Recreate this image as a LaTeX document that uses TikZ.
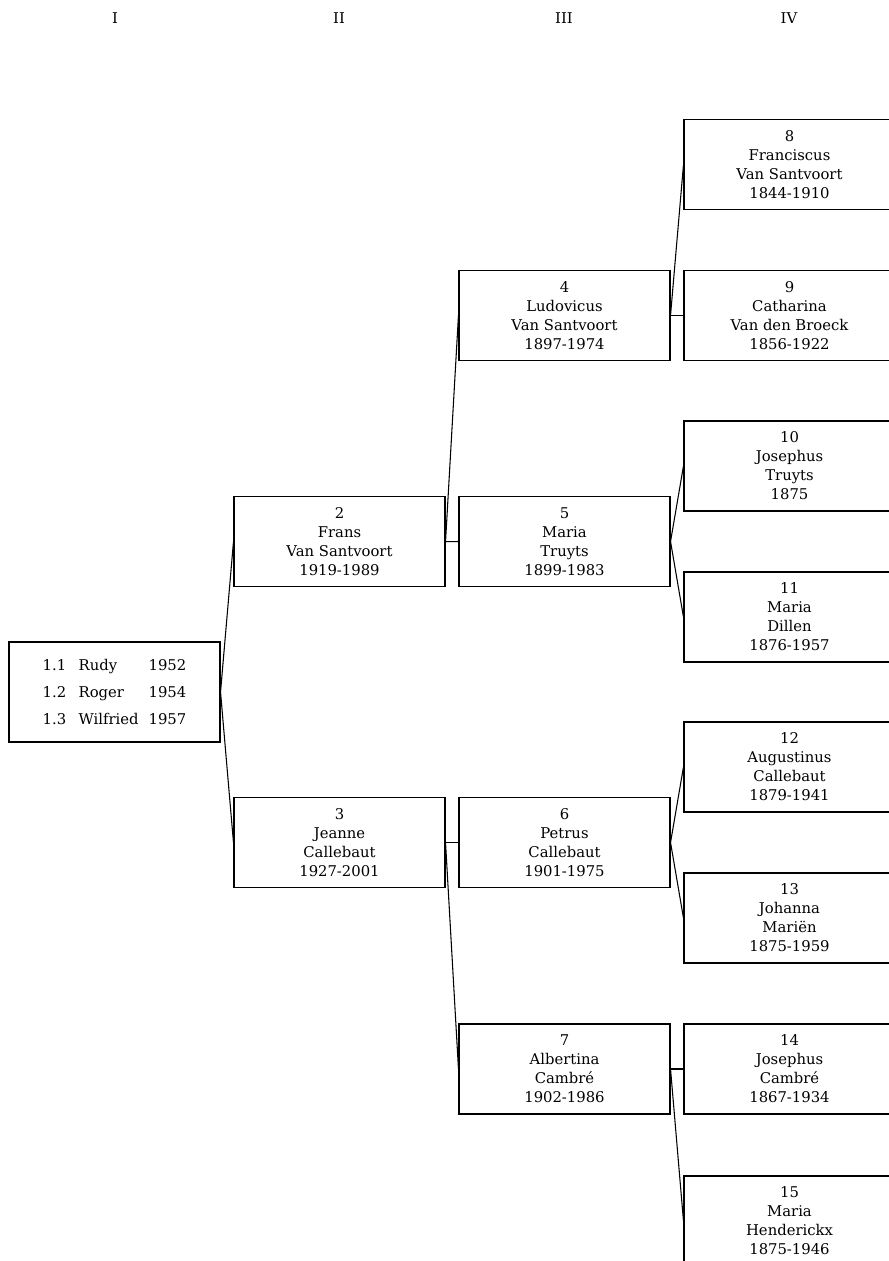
\documentclass[tikz,border=0pt]{standalone}
\usepackage{fontspec}
\setmainfont{DejaVu Serif}
\begin{document}
\begin{tikzpicture}[x=0.75pt,y=-0.75pt,
  person/.style={draw, line width=0.8pt, rectangle, minimum width=158.25pt,
    minimum height=67.5pt, align=center, inner sep=0pt,
    font=\fontsize{11.1}{14.25}\selectfont},
  rootbox/.style={person, minimum height=75pt, font=\fontsize{11.1}{20.6}\selectfont},
  header/.style={font=\fontsize{11.1}{12}\selectfont, inner sep=0pt},
  link/.style={line width=0.8pt}]
\clip (0,0) rectangle (889,1261);
% generation headers
\node[header] (hI)   at (115,18) {I};
\node[header] (hII)  at (339,18) {II};
\node[header] (hIII) at (564,18) {III};
\node[header] (hIV)  at (789,18) {IV};
% generation I
\node[rootbox] (n1) at (114.5,692) {%
  \makebox[27pt][l]{1.1}\makebox[52.5pt][l]{Rudy}1952\\
  \makebox[27pt][l]{1.2}\makebox[52.5pt][l]{Roger}1954\\
  \makebox[27pt][l]{1.3}\makebox[52.5pt][l]{Wilfried}1957};
% generation II
\node[person] (n2) at (339.5,541.7) {2\\Frans\\Van Santvoort\\1919-1989};
\node[person] (n3) at (339.5,842.5) {3\\Jeanne\\Callebaut\\1927-2001};
% generation III
\node[person] (n4) at (564.5,315.3) {4\\Ludovicus\\Van Santvoort\\1897-1974};
\node[person] (n5) at (564.5,541.5) {5\\Maria\\Truyts\\1899-1983};
\node[person] (n6) at (564.5,842.5) {6\\Petrus\\Callebaut\\1901-1975};
\node[person] (n7) at (564.5,1069) {7\\Albertina\\Cambré\\1902-1986};
% generation IV
\node[person] (n8)  at (789.5,164.7) {8\\Franciscus\\Van Santvoort\\1844-1910};
\node[person] (n9)  at (789.5,315.3) {9\\Catharina\\Van den Broeck\\1856-1922};
\node[person] (n10) at (789.5,466) {10\\Josephus\\Truyts\\1875};
\node[person] (n11) at (789.5,617) {11\\Maria\\Dillen\\1876-1957};
\node[person] (n12) at (789.5,767) {12\\Augustinus\\Callebaut\\1879-1941};
\node[person] (n13) at (789.5,918) {13\\Johanna\\Mariën\\1875-1959};
\node[person] (n14) at (789.5,1069) {14\\Josephus\\Cambré\\1867-1934};
\node[person] (n15) at (789.5,1221) {15\\Maria\\Henderickx\\1875-1946};
% connectors
\draw[link] (n1.east) -- (n2.west);
\draw[link] (n1.east) -- (n3.west);
\draw[link] (n2.east) -- (n4.west);
\draw[link] (n2.east) -- (n5.west);
\draw[link] (n3.east) -- (n6.west);
\draw[link] (n3.east) -- (n7.west);
\draw[link] (n4.east) -- (n8.west);
\draw[link] (n4.east) -- (n9.west);
\draw[link] (n5.east) -- (n10.west);
\draw[link] (n5.east) -- (n11.west);
\draw[link] (n6.east) -- (n12.west);
\draw[link] (n6.east) -- (n13.west);
\draw[link] (n7.east) -- (n14.west);
\draw[link] (n7.east) -- (n15.west);
\end{tikzpicture}
\end{document}
